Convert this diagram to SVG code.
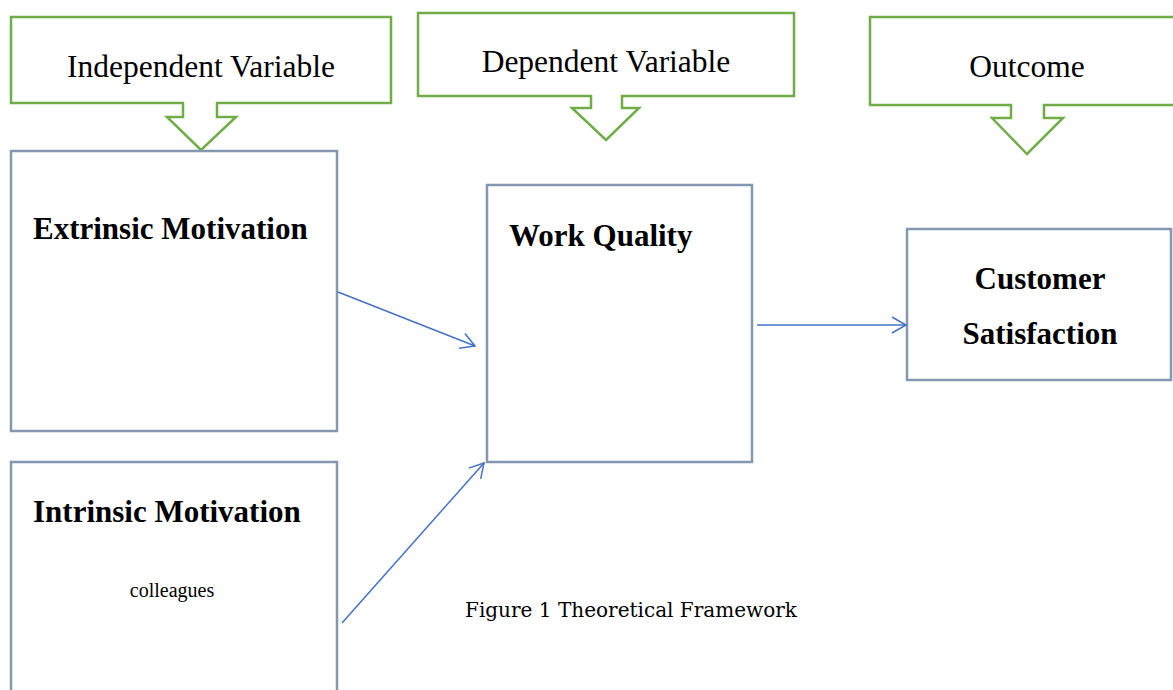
<svg xmlns="http://www.w3.org/2000/svg" width="1173" height="690" viewBox="0 0 1173 690">
<defs>
<style>
.callout{fill:#fff;stroke:#70AD47;stroke-width:2.5;stroke-linejoin:miter}
.box{fill:#fff;stroke:#8497B0;stroke-width:2.5}
.hdr{font-family:"Liberation Serif",serif;font-size:31.5px;fill:#000;text-anchor:middle}
.bold{font-family:"Liberation Serif",serif;font-size:31px;font-weight:bold;fill:#000}
.conn{stroke:#4472C4;stroke-width:1.5;fill:none}
</style>
<marker id="arr" viewBox="0 0 20 20" refX="18" refY="10" markerWidth="20" markerHeight="20" markerUnits="userSpaceOnUse" orient="auto">
<path d="M4,2 L18,10 L4,18" fill="none" stroke="#4472C4" stroke-width="1.5"/>
</marker>
</defs>
<rect width="1173" height="690" fill="#fff"/>
<g id="callout-independent">
<path class="callout" d="M11,17 H391 V103 H217 V117 H236 L201,150 L167,117 H183 V103 H11 Z"/>
<text class="hdr" x="201" y="77">Independent Variable</text>
</g>
<g id="callout-dependent">
<path class="callout" d="M418,13 H794 V96 H622 V108 H639 L606,140 L572,108 H591 V96 H418 Z"/>
<text class="hdr" x="606" y="72">Dependent Variable</text>
</g>
<g id="callout-outcome">
<path class="callout" d="M870,17 H1180 V105 H1044 V118 H1063 L1027,154 L992,118 H1011 V105 H870 Z"/>
<text class="hdr" x="1027" y="77">Outcome</text>
</g>
<g id="extrinsic">
<rect class="box" x="11" y="151" width="326" height="280"/>
<text class="bold" x="33" y="239">Extrinsic Motivation</text>
</g>
<g id="work-quality">
<rect class="box" x="487" y="185" width="265" height="277"/>
<text class="bold" x="509" y="246">Work Quality</text>
</g>
<g id="customer-satisfaction">
<rect class="box" x="907" y="229" width="264" height="151"/>
<text class="bold" x="1040" y="289" text-anchor="middle">Customer</text>
<text class="bold" x="1040" y="344" text-anchor="middle">Satisfaction</text>
</g>
<g id="intrinsic">
<rect class="box" x="11" y="462" width="326" height="240"/>
<text class="bold" x="33" y="522">Intrinsic Motivation</text>
<text x="172" y="597" font-family="Liberation Serif, serif" font-size="20" text-anchor="middle">colleagues</text>
</g>
<g id="connectors">
<line class="conn" x1="338" y1="292" x2="475" y2="346" marker-end="url(#arr)"/>
<line class="conn" x1="342" y1="623" x2="484" y2="463" marker-end="url(#arr)"/>
<line class="conn" x1="757" y1="325" x2="906" y2="325" marker-end="url(#arr)"/>
</g>
<text x="465" y="617" font-family="'DejaVu Serif', serif" font-size="20" textLength="332" lengthAdjust="spacingAndGlyphs" fill="#000">Figure 1 Theoretical Framework</text>
</svg>
